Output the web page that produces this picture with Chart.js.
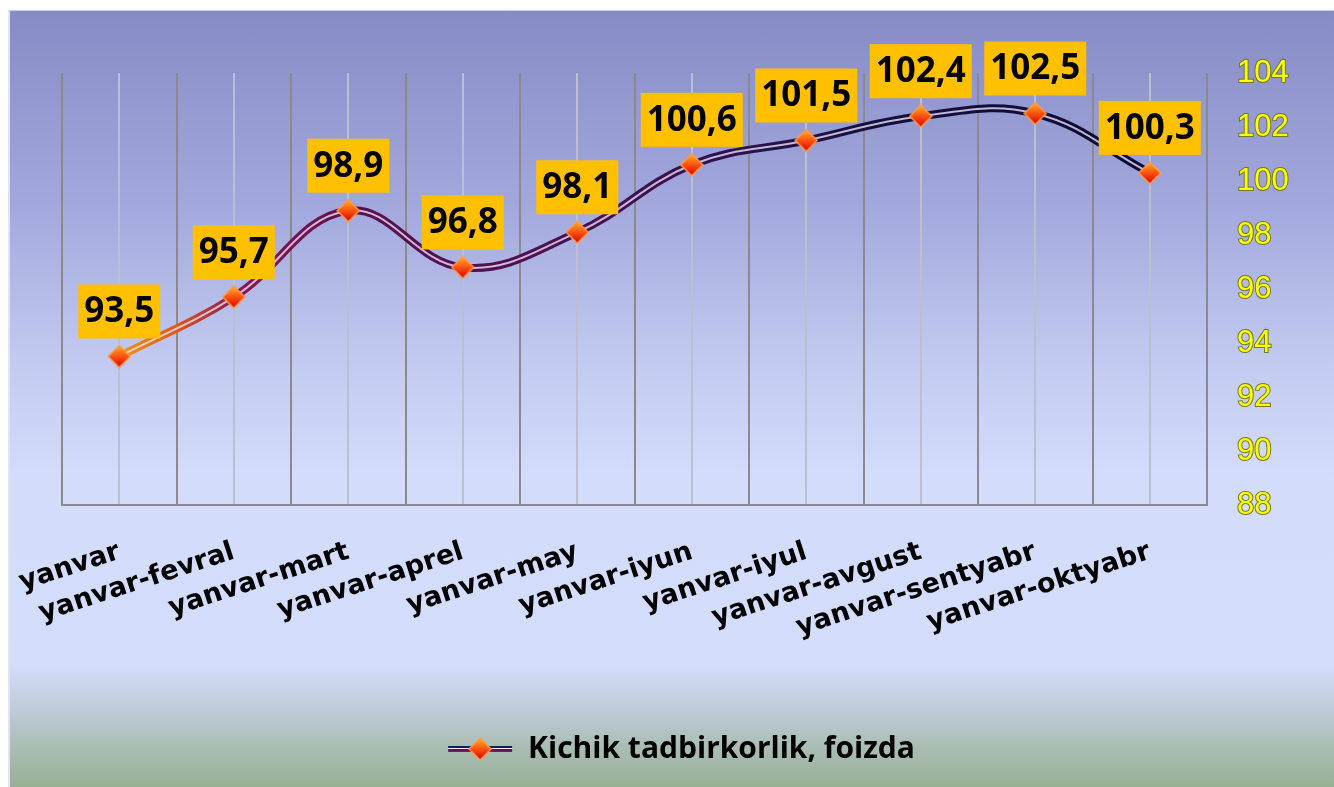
<!DOCTYPE html>
<html>
<head>
<meta charset="utf-8">
<title>Kichik tadbirkorlik</title>
<script src="https://cdn.jsdelivr.net/npm/chart.js@4"></script>
<style>
  html, body { margin: 0; padding: 0; background: #fff; overflow: hidden; }
  #wrap {
    position: absolute; left: 8px; top: 10px; width: 1326px; height: 777px;
    box-sizing: border-box; border-top: 1px solid #c8cae6; border-left: 2px solid #dfe4f6;
    background: linear-gradient(to bottom, #878bc6 0%, #a2a8dc 25%, #c2caf0 45%, #d3dcfb 60%, #d5ddfc 84%, #bfcbd8 90%, #a9bdb2 95%, #98af96 100%);
  }
</style>
</head>
<body>
<div id="wrap"><canvas id="chart"></canvas></div>
<script>
const categories = ['yanvar', 'yanvar-fevral', 'yanvar-mart', 'yanvar-aprel', 'yanvar-may',
  'yanvar-iyun', 'yanvar-iyul', 'yanvar-avgust', 'yanvar-sentyabr', 'yanvar-oktyabr'];
const values = [93.5, 95.7, 98.9, 96.8, 98.1, 100.6, 101.5, 102.4, 102.5, 100.3];
const yTicks = [88, 90, 92, 94, 96, 98, 100, 102, 104];
const seriesName = 'Kichik tadbirkorlik, foizda';

// orange-red diamond used for markers and legend
function makeDiamond(size) {
  const c = document.createElement('canvas');
  c.width = size; c.height = size;
  const g = c.getContext('2d');
  const h = size / 2;
  const grad = g.createLinearGradient(0, 1, 0, size - 1);
  grad.addColorStop(0, '#ffb428');
  grad.addColorStop(0.45, '#ff5a12');
  grad.addColorStop(1, '#d40000');
  g.beginPath();
  g.moveTo(h, 1); g.lineTo(size - 1, h); g.lineTo(h, size - 1); g.lineTo(1, h);
  g.closePath();
  g.fillStyle = grad;
  g.fill();
  g.lineWidth = 1.5;
  g.strokeStyle = '#ff9c48';
  g.stroke();
  return c;
}

function makeLegendIcon(diamond) {
  const c = document.createElement('canvas');
  c.width = 66; c.height = 26;
  const g = c.getContext('2d');
  const stripes = [['#1c1c5c', 2], ['#f2f0ff', 1], ['#6a1050', 2], ['#b01030', 1]];
  let y = 10;
  stripes.forEach(([col, w]) => {
    g.fillStyle = col;
    g.fillRect(1, y, 64, w);
    y += w;
  });
  g.drawImage(diamond, 33 - diamond.width / 2, 13 - diamond.height / 2);
  return c;
}

const diamond = makeDiamond(24);
const legendIcon = makeLegendIcon(diamond);

function lineGradient(context) {
  const chart = context.chart;
  const area = chart.chartArea;
  if (!area) return '#4a1050';
  const g = chart.ctx.createLinearGradient(area.left, 0, area.right, 0);
  g.addColorStop(0.04, '#f7a010');
  g.addColorStop(0.10, '#dc5a1c');
  g.addColorStop(0.15, '#8c1a50');
  g.addColorStop(0.25, '#5a1050');
  g.addColorStop(0.45, '#4a1052');
  g.addColorStop(0.58, '#2e1250');
  g.addColorStop(0.72, '#14103e');
  g.addColorStop(1, '#0a0a36');
  return g;
}

// gold value boxes above the markers
const valueBoxes = {
  id: 'valueBoxes',
  afterDatasetsDraw(chart) {
    const meta = chart.getDatasetMeta(2);
    const c = chart.ctx;
    c.save();
    c.font = 'bold 35px "Open Sans"';
    c.textAlign = 'center';
    c.textBaseline = 'middle';
    meta.data.forEach((pt, i) => {
      const txt = values[i].toFixed(1).replace('.', ',');
      const w = c.measureText(txt).width + 12;
      const h = 54;
      const bottom = pt.y - 18;
      c.fillStyle = '#ffc000';
      c.fillRect(pt.x - w / 2, bottom - h, w, h);
      c.fillStyle = '#000';
      c.fillText(txt, pt.x, bottom - h / 2 + 1);
    });
    c.restore();
  }
};

new Chart(document.getElementById('chart'), {
  type: 'line',
  data: {
    labels: categories,
    datasets: [
      { data: values, borderColor: lineGradient, borderWidth: 8, tension: 0.4, pointRadius: 0, fill: false, order: 3 },
      { data: values, borderColor: 'rgba(236,226,246,0.8)', borderWidth: 2, tension: 0.4, pointRadius: 0, fill: false, order: 2 },
      { label: seriesName, data: values, showLine: false, pointStyle: diamond, pointRadius: 12, order: 1 }
    ]
  },
  options: {
    responsive: true,
    maintainAspectRatio: false,
    animation: false,
    events: [],
    layout: { padding: { left: 52, top: 62, right: 34, bottom: 13 } },
    scales: {
      x: {
        offset: true,
        grid: { offset: false, color: '#bcbfd2', lineWidth: 2, drawTicks: false },
        border: { display: true, color: '#8a8a8e', width: 2 },
        ticks: {
          color: '#000', autoSkip: false, minRotation: 18, maxRotation: 18, padding: 31,
          font: { family: 'DejaVu Sans', weight: 'bold', size: 27 }
        },
        afterFit: (s) => { s.height = 219; s.paddingLeft = 0; s.paddingRight = 0; }
      },
      x2: {
        type: 'category', position: 'bottom', offset: true,
        grid: { offset: true, color: '#8a8a8e', lineWidth: 2, drawTicks: false },
        border: { display: false },
        ticks: { display: false },
        afterFit: (s) => { s.height = 0; s.paddingLeft = 0; s.paddingRight = 0; }
      },
      y: {
        position: 'right',
        min: yTicks[0],
        max: yTicks[yTicks.length - 1],
        grid: { display: false, drawTicks: false },
        border: { display: false },
        afterBuildTicks: (s) => { s.ticks = yTicks.map(v => ({ value: v })); },
        ticks: {
          color: '#ffff00', textStrokeColor: '#6e7a2a', textStrokeWidth: 2, padding: 30,
          font: { family: 'Liberation Sans', size: 31 }
        },
        afterFit: (s) => { s.width = 93; }
      }
    },
    plugins: {
      legend: {
        position: 'bottom',
        labels: {
          usePointStyle: true, pointStyleWidth: 66, boxHeight: 26, padding: 10,
          color: '#000', font: { family: 'Open Sans', weight: 'bold', size: 30 },
          generateLabels: () => [{
            text: seriesName, pointStyle: legendIcon, fillStyle: 'transparent',
            strokeStyle: 'transparent', lineWidth: 0, hidden: false, datasetIndex: 2
          }]
        }
      },
      tooltip: { enabled: false }
    }
  },
  plugins: [valueBoxes]
});
</script>
</body>
</html>
